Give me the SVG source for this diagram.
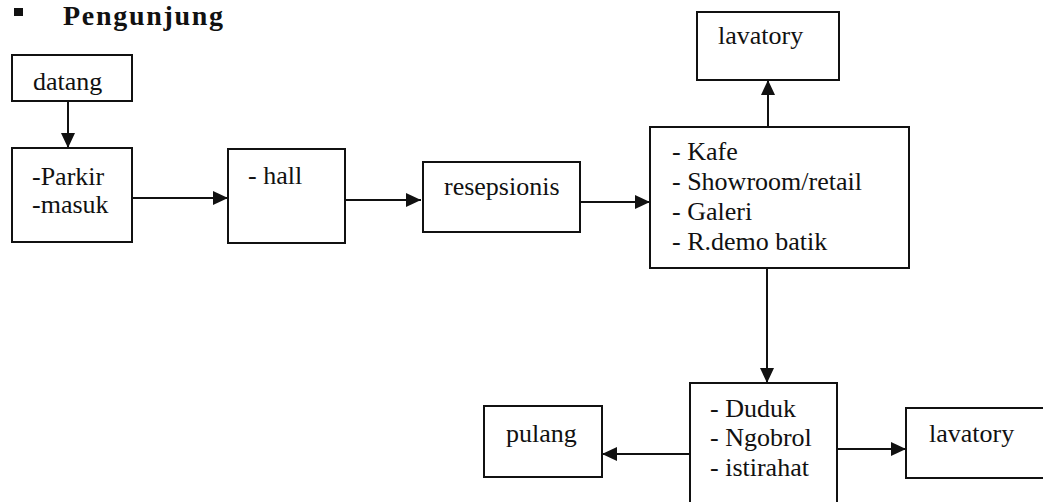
<svg xmlns="http://www.w3.org/2000/svg" width="1043" height="502" viewBox="0 0 1043 502">
<style>
.box{fill:#fff;stroke:#111;stroke-width:2}
.t{font-family:"Liberation Serif","Times New Roman",serif;font-size:26px;fill:#111}
.title{font-family:"Liberation Serif","Times New Roman",serif;font-size:28px;font-weight:bold;fill:#111}
.c{stroke:#111;stroke-width:2;fill:none;marker-end:url(#ah)}
</style>
<defs>
<marker id="ah" viewBox="0 0 15 14" markerWidth="15" markerHeight="14" refX="15" refY="7" orient="auto" markerUnits="userSpaceOnUse">
<path d="M0,0 L15,7 L0,14 Z" fill="#111"/>
</marker>
</defs>
<rect width="1043" height="502" fill="#fff"/>
<g id="title">
<rect x="14" y="8" width="9" height="8" fill="#111"/>
<text class="title" x="63" y="25" textLength="160" lengthAdjust="spacing">Pengunjung</text>
</g>
<g id="connectors">
<line class="c" x1="68" y1="101" x2="68" y2="148"/>
<line class="c" x1="132" y1="198" x2="228" y2="198"/>
<line class="c" x1="345" y1="200" x2="421" y2="200"/>
<line class="c" x1="580" y1="202" x2="650" y2="202"/>
<line class="c" x1="768" y1="127" x2="768" y2="80"/>
<line class="c" x1="767" y1="268" x2="767" y2="383"/>
<line class="c" x1="696" y1="454" x2="602" y2="454"/>
<line class="c" x1="837" y1="449" x2="906" y2="449"/>
</g>
<g id="datang">
<rect class="box" x="12" y="55" width="120" height="46"/>
<text class="t" x="33" y="90">datang</text>
</g>
<g id="parkir">
<rect class="box" x="12" y="148" width="120" height="94"/>
<text class="t" x="32" y="185">-Parkir</text>
<text class="t" x="32" y="213">-masuk</text>
</g>
<g id="hall">
<rect class="box" x="228" y="149" width="117" height="94"/>
<text class="t" x="248" y="184">- hall</text>
</g>
<g id="resepsionis">
<rect class="box" x="423" y="162" width="157" height="70"/>
<text class="t" x="444" y="195">resepsionis</text>
</g>
<g id="kafe">
<rect class="box" x="650" y="127" width="259" height="141"/>
<text class="t" x="672" y="160">- Kafe</text>
<text class="t" x="672" y="190">- Showroom/retail</text>
<text class="t" x="672" y="220">- Galeri</text>
<text class="t" x="672" y="250">- R.demo batik</text>
</g>
<g id="lavatory-top">
<rect class="box" x="697" y="12" width="142" height="68"/>
<text class="t" x="718" y="44">lavatory</text>
</g>
<g id="duduk">
<rect class="box" x="690" y="383" width="147" height="130"/>
<text class="t" x="710" y="417">- Duduk</text>
<text class="t" x="710" y="446">- Ngobrol</text>
<text class="t" x="710" y="476">- istirahat</text>
</g>
<g id="pulang">
<rect class="box" x="484" y="406" width="118" height="71"/>
<text class="t" x="506" y="442">pulang</text>
</g>
<g id="lavatory-bottom">
<rect class="box" x="906" y="408" width="150" height="70"/>
<text class="t" x="929" y="442">lavatory</text>
</g>
</svg>
